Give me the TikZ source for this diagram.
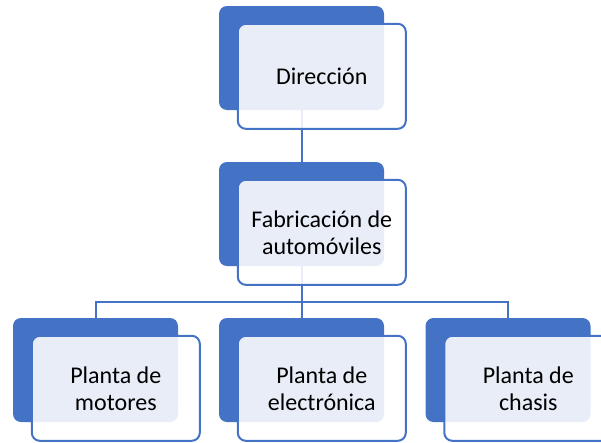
\documentclass[tikz,border=0pt]{standalone}
\usepackage{fontspec}
\setmainfont{Carlito}
\usetikzlibrary{positioning}
\definecolor{boxblue}{HTML}{4472C4}

\begin{document}
\begin{tikzpicture}[back/.style={fill=boxblue, rounded corners=8pt, inner sep=0pt, minimum width=165pt, minimum height=104pt}, front/.style={draw=boxblue, line width=2pt, fill=white, fill opacity=0.88, text opacity=1, rounded corners=8pt, inner sep=0pt, minimum width=168pt, minimum height=105pt, align=center, anchor=north west, font=\fontsize{24}{27}\selectfont}, link/.style={draw=boxblue, line width=2pt}]
	\useasboundingbox (0pt, 0pt) rectangle (601pt, -442pt);
	\draw (301.5pt, -58.0pt)node[back](0){};
	\draw (301.5pt, -214.0pt)node[back](1){};
	\draw (95.5pt, -370.0pt)node[back](2){};
	\draw (301.5pt, -370.0pt)node[back](3){};
	\draw (508.0pt, -370.0pt)node[back](4){};
	\path[link] (0.south) -- (1.north);
	\path[link] (1.south) -- (3.north);
	\path[link] (2.north) -- ++(0pt, 16pt) -| (4.north);
	\node[front] (0t) at ([shift={(18pt,-17pt)}]0.north west) {Dirección};
	\node[front] (1t) at ([shift={(18pt,-17pt)}]1.north west) {Fabricación de\\automóviles};
	\node[front] (2t) at ([shift={(18pt,-17pt)}]2.north west) {Planta de\\motores};
	\node[front] (3t) at ([shift={(18pt,-17pt)}]3.north west) {Planta de\\electrónica};
	\node[front] (4t) at ([shift={(18pt,-17pt)}]4.north west) {Planta de\\chasis};
	\end{tikzpicture}
\end{document}
